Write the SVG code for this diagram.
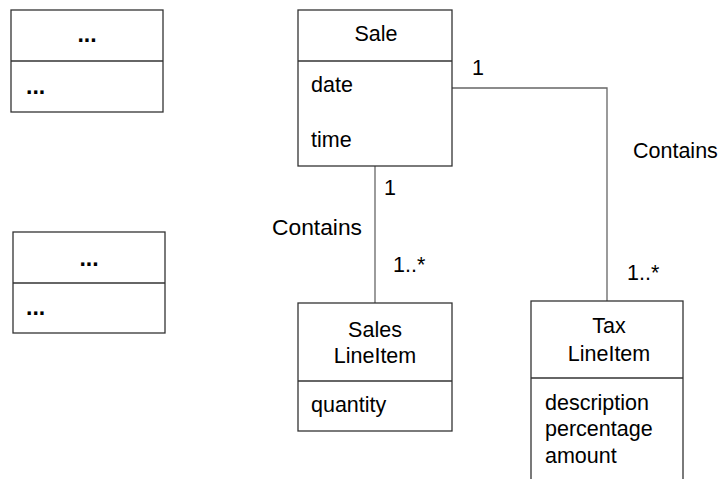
<svg xmlns="http://www.w3.org/2000/svg" width="728" height="479" viewBox="0 0 728 479">
<style>
.box{fill:#fff;stroke:#333;stroke-width:1.3}
.ln{fill:none;stroke:#666;stroke-width:1.3}
text{font-family:"Liberation Sans",Arial,sans-serif;font-size:21.5px;fill:#000}
.c{text-anchor:middle}
.d{font-weight:bold;font-size:23px}
</style>
<rect width="728" height="479" fill="#fff"/>
<g id="connectors">
<polyline class="ln" points="452,88 607,88 607,301"/>
<line class="ln" x1="375" y1="166" x2="375" y2="303"/>
<text x="472" y="75">1</text>
<text x="633" y="158">Contains</text>
<text x="627" y="280">1..*</text>
<text x="384" y="195">1</text>
<text x="272" y="235" textLength="90" lengthAdjust="spacingAndGlyphs">Contains</text>
<text x="393" y="272">1..*</text>
</g>
<g id="class1">
<rect class="box" x="11" y="10" width="152" height="102"/>
<line class="box" x1="11" y1="61" x2="163" y2="61"/>
<text class="c d" x="87" y="42">...</text>
<text class="d" x="26" y="94">...</text>
</g>
<g id="class2">
<rect class="box" x="13" y="232" width="152" height="101"/>
<line class="box" x1="13" y1="283" x2="165" y2="283"/>
<text class="c d" x="89" y="266">...</text>
<text class="d" x="26" y="315">...</text>
</g>
<g id="sale">
<rect class="box" x="298" y="10" width="154" height="156"/>
<line class="box" x1="298" y1="61" x2="452" y2="61"/>
<text class="c" x="376" y="41">Sale</text>
<text x="311" y="92">date</text>
<text x="311" y="147">time</text>
</g>
<g id="salesLineItem">
<rect class="box" x="298" y="303" width="154" height="128"/>
<line class="box" x1="298" y1="381" x2="452" y2="381"/>
<text class="c" x="375" y="337">Sales</text>
<text class="c" x="375" y="363">LineItem</text>
<text x="311" y="412">quantity</text>
</g>
<g id="taxLineItem">
<rect class="box" x="531" y="301" width="152" height="190"/>
<line class="box" x1="531" y1="378" x2="683" y2="378"/>
<text class="c" x="609" y="333">Tax</text>
<text class="c" x="609" y="361">LineItem</text>
<text x="545" y="410">description</text>
<text x="545" y="436">percentage</text>
<text x="545" y="463">amount</text>
</g>
</svg>
